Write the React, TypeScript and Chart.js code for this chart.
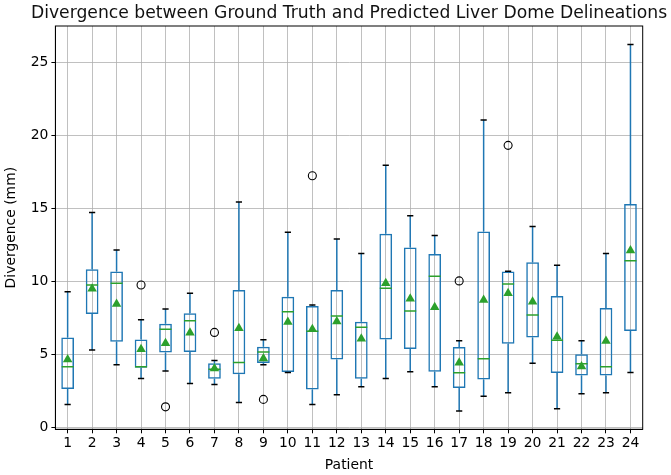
import React, { useEffect, useRef } from 'react';
import { Chart, registerables } from 'chart.js';

Chart.register(...registerables);

const patients = ['1','2','3','4','5','6','7','8','9','10','11','12','13','14','15','16','17','18','19','20','21','22','23','24'];
const whiskerLow = [1.58, 5.31, 4.30, 3.36, 3.87, 3.02, 2.95, 1.72, 4.30, 3.77, 1.58, 2.24, 2.79, 3.36, 3.82, 2.79, 1.14, 2.15, 2.38, 4.40, 1.28, 2.31, 2.38, 3.77];
const q1 = [2.65, 7.78, 5.88, 4.09, 5.15, 5.17, 3.34, 3.65, 4.42, 3.80, 2.61, 4.67, 3.34, 6.04, 5.38, 3.82, 2.71, 3.30, 5.75, 6.18, 3.74, 3.57, 3.57, 6.61];
const medians = [4.16, 9.77, 9.89, 4.16, 6.73, 7.32, 4.00, 4.45, 5.17, 7.94, 6.60, 7.64, 6.87, 9.55, 7.99, 10.37, 3.76, 4.72, 9.84, 7.71, 5.98, 4.38, 4.16, 11.44];
const q3 = [6.18, 10.85, 10.69, 6.04, 7.12, 7.83, 4.40, 9.43, 5.54, 8.97, 8.33, 9.43, 7.25, 13.28, 12.34, 11.90, 5.52, 13.43, 10.69, 11.33, 9.02, 5.02, 8.19, 15.32];
const whiskerHigh = [9.31, 14.74, 12.16, 7.39, 8.12, 9.20, 4.60, 15.45, 6.02, 13.39, 8.40, 12.93, 11.92, 17.97, 14.51, 13.16, 5.95, 21.08, 10.71, 13.78, 11.13, 5.95, 11.92, 26.26];
const means = [4.67, 9.52, 8.47, 5.36, 5.77, 6.50, 4.05, 6.80, 4.74, 7.23, 6.73, 7.26, 6.09, 9.89, 8.83, 8.24, 4.44, 8.74, 9.20, 8.63, 6.22, 4.18, 5.93, 12.13];
const outliers = [null, null, null, 9.77, 1.42, null, 6.52, null, 1.93, null, 17.26, null, null, null, null, null, 10.05, null, 19.34, null, null, null, null, null];
const yTicks = [0, 5, 10, 15, 20, 25];

const titleText = 'Divergence between Ground Truth and Predicted Liver Dome Delineations';
const FONT = '"DejaVu Sans", sans-serif';

export default function App() {
  const ref = useRef<HTMLCanvasElement>(null);
  useEffect(() => {
    const canvas = ref.current!;
    Chart.defaults.font.family = FONT;
    const boxData = patients.map((_, i) => [q1[i], q3[i]]);
    const lowW = patients.map((_, i) => [whiskerLow[i], q1[i]]);
    const highW = patients.map((_, i) => [q3[i], whiskerHigh[i]]);

    const framePlugin = {
      id: 'frameAndTitle',
      afterDraw(chart: any) {
        const { ctx, chartArea } = chart;
        ctx.save();
        ctx.strokeStyle = '#000';
        ctx.lineWidth = 1;
        ctx.strokeRect(chartArea.left, chartArea.top, chartArea.right - chartArea.left, chartArea.bottom - chartArea.top);
        ctx.fillStyle = '#111';
        ctx.font = '17.2px ' + FONT;
        ctx.textAlign = 'center';
        ctx.textBaseline = 'alphabetic';
        ctx.fillText(titleText, (chartArea.left + chartArea.right) / 2, 17.5);
        ctx.restore();
      },
    };

    const pointDs = (data: any[], extra: any) => ({
      type: 'line',
      data,
      showLine: false,
      ...extra,
    });

    const chart = new Chart(canvas, {
      type: 'bar',
      data: {
        labels: patients,
        datasets: [
          pointDs(means, { pointStyle: 'triangle', pointRadius: 5.5, pointBackgroundColor: '#2ca02c', pointBorderColor: '#2ca02c', pointBorderWidth: 0 }),
          pointDs(medians, { pointStyle: 'line', pointRadius: 6, pointBorderColor: '#2ca02c', pointBackgroundColor: '#2ca02c', pointBorderWidth: 1.5 }),
          pointDs(outliers, { pointStyle: 'circle', pointRadius: 4, pointBorderColor: '#000', pointBackgroundColor: 'rgba(0,0,0,0)', pointBorderWidth: 1.1 }),
          pointDs(whiskerHigh, { pointStyle: 'line', pointRadius: 3.1, pointBorderColor: '#000', pointBackgroundColor: '#000', pointBorderWidth: 1.5 }),
          pointDs(whiskerLow, { pointStyle: 'line', pointRadius: 3.1, pointBorderColor: '#000', pointBackgroundColor: '#000', pointBorderWidth: 1.5 }),
          { type: 'bar', data: boxData, backgroundColor: 'rgba(0,0,0,0)', borderColor: '#1f77b4', borderWidth: 1.5, borderSkipped: false, grouped: false, categoryPercentage: 1, barPercentage: 0.52 },
          { type: 'bar', data: highW, backgroundColor: '#1f77b4', borderWidth: 0, grouped: false, categoryPercentage: 1, barPercentage: 0.061 },
          { type: 'bar', data: lowW, backgroundColor: '#1f77b4', borderWidth: 0, grouped: false, categoryPercentage: 1, barPercentage: 0.061 },
        ] as any,
      },
      options: {
        animation: false,
        responsive: true,
        maintainAspectRatio: false,
        layout: { padding: { top: 26, right: 28.3, left: 0, bottom: 0 } },
        plugins: { legend: { display: false }, tooltip: { enabled: false }, title: { display: false } },
        scales: {
          x: {
            offset: true,
            grid: { offset: false, color: '#b0b0b0', lineWidth: 0.8, tickColor: '#000', tickLength: 4, tickWidth: 1 },
            border: { display: true, color: '#000', width: 1 },
            ticks: { color: '#000', font: { size: 13.9, family: FONT }, padding: 2, maxRotation: 0, autoSkip: false },
            title: { display: true, text: 'Patient', color: '#000', font: { size: 13.9, family: FONT }, padding: { top: 0, bottom: 1.7 } },
            afterFit: (s: any) => { s.height = 45.7; },
          },
          y: {
            type: 'linear',
            min: -0.12,
            max: 27.52,
            afterBuildTicks: (s: any) => { s.ticks = yTicks.map((v) => ({ value: v })); },
            grid: { color: '#b0b0b0', lineWidth: 0.8, tickColor: '#000', tickLength: 4, tickWidth: 1 },
            border: { display: true, color: '#000', width: 1 },
            ticks: { color: '#000', font: { size: 13.9, family: FONT }, padding: 3 },
            title: { display: true, text: 'Divergence (mm)', color: '#000', font: { size: 13.9, family: FONT }, padding: { top: 3.4, bottom: 0 } },
            afterFit: (s: any) => { s.width = 55.4; },
          },
        },
      } as any,
      plugins: [framePlugin],
    });
    return () => chart.destroy();
  }, []);
  return (
    <div style={{ position: 'fixed', left: 0, top: 0, width: 671, height: 475 }}>
      <canvas ref={ref} />
    </div>
  );
}
